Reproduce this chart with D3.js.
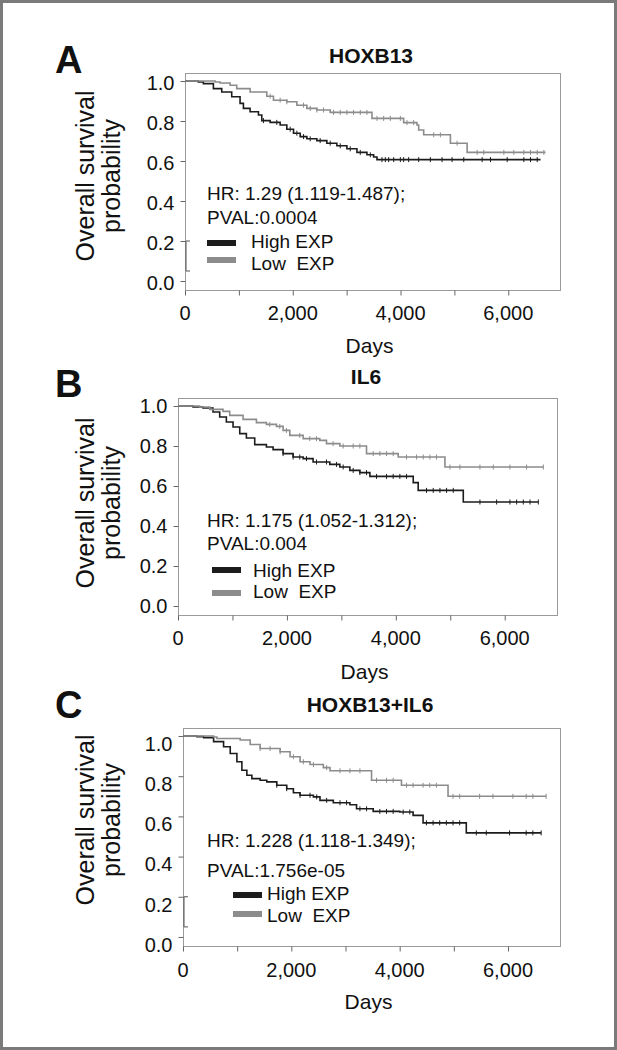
<!DOCTYPE html>
<html><head><meta charset="utf-8">
<script src="https://cdn.jsdelivr.net/npm/d3@7"></script>
<style>
body{margin:0;background:#fff}
svg{display:block}
text{font-family:"Liberation Sans",Arial,Helvetica,sans-serif;fill:#111}
</style>
</head><body><svg id="c" width="617" height="1050"></svg>
<script>
// ---------- text / labels ----------
const panelTitles = ["HOXB13", "IL6", "HOXB13+IL6"];
const panelLetters = ["A", "B", "C"];
const hrTexts = ["HR: 1.29 (1.119-1.487);", "HR: 1.175 (1.052-1.312);", "HR: 1.228 (1.118-1.349);"];
const pvalTexts = ["PVAL:0.0004", "PVAL:0.004", "PVAL:1.756e-05"];
const legendLabels = ["High EXP", "Low\u00a0\u00a0EXP"];
const xTickValues = [0, 1000, 2000, 3000, 4000, 5000, 6000];
const xLabelValues = [0, 2000, 4000, 6000];
const yTickValues = [0, 0.2, 0.4, 0.6, 0.8, 1.0];
const yTitleLines = ["Overall survival", "probability"];
const xTitle = "Days";

// ---------- Panel A (HOXB13) ----------
const aHighTime = [0, 248, 341, 527, 682, 867, 1022, 1084, 1208, 1363, 1425, 1580, 1766, 1890, 2014, 2138, 2262, 2447, 2633, 2819, 3005, 3191, 3377, 3501, 3563];
const aHighSurv = [1.0, 0.995, 0.987, 0.962, 0.945, 0.921, 0.888, 0.863, 0.846, 0.830, 0.802, 0.793, 0.780, 0.759, 0.739, 0.722, 0.711, 0.702, 0.689, 0.676, 0.661, 0.643, 0.631, 0.620, 0.607];
const aHighEnd = 6599;
const aHighCens = [1456, 1704, 1952, 2076, 2200, 2324, 2509, 2695, 2881, 3067, 3253, 3439, 3656, 3718, 3780, 3873, 3997, 4058, 4151, 4337, 4554, 4771, 4957, 5174, 5515, 5670, 5980, 6289, 6413, 6537];
const aLowTime = [0, 558, 651, 837, 960, 1208, 1518, 1642, 1890, 2076, 2262, 2447, 2695, 3470, 4058, 4306, 4337, 4430, 4926, 5236];
const aLowSurv = [1.0, 0.995, 0.990, 0.979, 0.962, 0.945, 0.924, 0.904, 0.896, 0.879, 0.863, 0.855, 0.843, 0.813, 0.792, 0.780, 0.755, 0.731, 0.689, 0.643];
const aLowEnd = 6692;
const aLowCens = [1580, 1766, 1890, 2200, 2324, 2447, 2571, 2757, 2881, 3005, 3129, 3253, 3377, 3563, 3687, 3811, 3997, 4120, 4244, 4616, 4740, 5050, 5422, 5546, 5918, 6103, 6289, 6413, 6537, 6661];

// ---------- Panel B (IL6) ----------
const bHighTime = [0, 276, 460, 643, 766, 888, 1011, 1134, 1256, 1409, 1624, 1746, 1930, 2114, 2298, 2481, 2788, 2972, 3156, 3340, 3524, 4320, 4411, 5239];
const bHighSurv = [1.0, 0.995, 0.99, 0.97, 0.945, 0.92, 0.895, 0.862, 0.84, 0.807, 0.795, 0.782, 0.762, 0.745, 0.737, 0.72, 0.708, 0.695, 0.678, 0.667, 0.648, 0.617, 0.578, 0.52];
const bHighEnd = 6617;
const bHighCens = [1930, 2114, 2236, 2359, 2543, 2727, 2911, 3033, 3217, 3340, 3462, 3646, 3830, 3952, 4074, 4197, 4564, 4687, 4810, 4932, 5055, 5545, 5851, 6096, 6219, 6341, 6464, 6617];
const bLowTime = [0, 398, 582, 827, 950, 1195, 1440, 1624, 1808, 1930, 2053, 2298, 2604, 2727, 2972, 3462, 4044, 4902];
const bLowSurv = [1.0, 0.995, 0.983, 0.973, 0.953, 0.933, 0.917, 0.908, 0.898, 0.878, 0.853, 0.837, 0.828, 0.812, 0.8, 0.762, 0.745, 0.695];
const bLowEnd = 6709;
const bLowCens = [1685, 1869, 1991, 2236, 2420, 2543, 2849, 3033, 3217, 3340, 3585, 3707, 3830, 3952, 4197, 4381, 4503, 4626, 4748, 4994, 5177, 5545, 5790, 6096, 6402, 6709];

// ---------- Panel C (HOXB13+IL6) ----------
const cHighTime = [0, 258, 381, 565, 749, 872, 995, 1087, 1179, 1271, 1424, 1547, 1731, 1915, 2038, 2161, 2407, 2529, 2775, 3082, 3204, 3511, 4003, 4248, 4432, 5230];
const cHighSurv = [1.0, 0.997, 0.992, 0.972, 0.947, 0.913, 0.872, 0.83, 0.805, 0.788, 0.78, 0.772, 0.755, 0.738, 0.718, 0.705, 0.697, 0.68, 0.668, 0.658, 0.638, 0.625, 0.622, 0.605, 0.568, 0.518];
const cHighEnd = 6612;
const cHighCens = [1731, 1915, 2161, 2345, 2468, 2652, 2898, 3020, 3266, 3389, 3634, 3757, 3880, 4064, 4187, 4494, 4617, 4739, 4862, 4985, 5108, 5415, 5599, 6029, 6336, 6459, 6612];
const cLowTime = [0, 565, 626, 1056, 1240, 1424, 1793, 1977, 2161, 2345, 2591, 2714, 3481, 4033, 4893];
const cLowSurv = [1.0, 0.995, 0.988, 0.98, 0.958, 0.938, 0.922, 0.897, 0.872, 0.858, 0.843, 0.827, 0.78, 0.755, 0.7];
const cLowEnd = 6704;
const cLowCens = [1424, 1608, 1793, 2038, 2222, 2407, 2652, 2898, 3082, 3266, 3573, 3757, 3880, 4125, 4248, 4432, 4555, 4678, 4985, 5108, 5476, 5722, 6090, 6336, 6459, 6704];

const xDomain = [0, 6960];
const yDomain = [-0.045, 1.04];

// series assembly (data only)
const panelSeries = [
  [{t: aHighTime, s: aHighSurv, end: aHighEnd, c: aHighCens}, {t: aLowTime, s: aLowSurv, end: aLowEnd, c: aLowCens}],
  [{t: bHighTime, s: bHighSurv, end: bHighEnd, c: bHighCens}, {t: bLowTime, s: bLowSurv, end: bLowEnd, c: bLowCens}],
  [{t: cHighTime, s: cHighSurv, end: cHighEnd, c: cHighCens}, {t: cLowTime, s: cLowSurv, end: cLowEnd, c: cLowCens}]
];

// ---------- layout (positions / styles) ----------
const layout = [
  {l:185, r:560, t:73, b:290, letter:[55,73], title:[371,63], yTitleCy:176, ylabDy:2, xlabY:320, xTitleY:353,
   hr:[207,200], pv:[207,224], leg:[207,240,251,248,257,270], bracket:true},
  {l:178, r:557, t:398, b:615, letter:[55,397], title:[366,384], yTitleCy:503, ylabDy:0, xlabY:645, xTitleY:679,
   hr:[207,527], pv:[207,550], leg:[212,567,253,577,590,598], bracket:false},
  {l:183, r:560, t:728, b:946, letter:[55,718], title:[370,712], yTitleCy:820, ylabDy:8, xlabY:977, xTitleY:1009,
   hr:[207,847], pv:[207,877], leg:[233,892,267,900,911,922], bracket:true}
];
const colHigh = "#1c1c1c", colLow = "#8c8c8c", boxCol = "#9a9a9a";

const svg = d3.select("#c");
svg.append("rect").attr("x",1.5).attr("y",1.5).attr("width",614).attr("height",1047)
  .attr("fill","#fff").attr("stroke","#7a7a7a").attr("stroke-width",3);

function survAt(ser, time) {
  let v = ser.s[0];
  for (let i = 0; i < ser.t.length; i++) if (ser.t[i] <= time) v = ser.s[i];
  return v;
}

layout.forEach((L, p) => {
  const g = svg.append("g");
  const x = d3.scaleLinear().domain(xDomain).range([L.l, L.r]);
  const y = d3.scaleLinear().domain(yDomain).range([L.b, L.t]);

  // box
  g.append("rect").attr("x", L.l + 0.5).attr("y", L.t + 0.5)
    .attr("width", L.r - L.l).attr("height", L.b - L.t)
    .attr("fill", "none").attr("stroke", boxCol).attr("stroke-width", 1);

  // y axis
  const ya = g.append("g").attr("transform", `translate(${L.l + 0.5},0)`)
    .call(d3.axisLeft(y).tickValues(yTickValues).tickSize(5).tickPadding(6).tickFormat(d3.format(".1f")));
  ya.select(".domain").remove();
  ya.selectAll(".tick line").attr("stroke", "#666");
  ya.selectAll(".tick text").attr("font-size", 20).attr("fill", "#111")
    .attr("font-family", '"Liberation Sans",Arial,sans-serif').attr("dy", (0.32) + "em")
    .attr("transform", `translate(0,${L.ylabDy})`);

  // x axis
  const xa = g.append("g").attr("transform", `translate(0,${L.b + 0.5})`)
    .call(d3.axisBottom(x).tickValues(xTickValues).tickSize(5).tickFormat(""));
  xa.select(".domain").remove();
  xa.selectAll(".tick line").attr("stroke", "#666");
  g.selectAll(".xlab").data(xLabelValues).join("text")
    .attr("x", d => x(d)).attr("y", L.xlabY).attr("text-anchor", "middle")
    .attr("font-size", 20).text(d => d3.format(",")(d));

  // bracket artifact near y axis
  if (L.bracket) {
    const bx = L.l + 1;
    g.append("path").attr("d", `M${bx+4},${y(0.2)}H${bx}V${y(0.05)}H${bx+4}`)
      .attr("fill","none").attr("stroke","#555").attr("stroke-width",1);
  }

  // curves
  const line = d3.line().x(d => x(d[0])).y(d => y(d[1])).curve(d3.curveStepAfter);
  panelSeries[p].forEach((ser, k) => {
    const pts = ser.t.map((t, i) => [t, ser.s[i]]);
    pts.push([ser.end, ser.s[ser.s.length - 1]]);
    const col = k === 0 ? colHigh : colLow;
    g.append("path").datum(pts).attr("d", line).attr("fill", "none")
      .attr("stroke", col).attr("stroke-width", 1.6);
    g.selectAll(null).data(ser.c).join("line")
      .attr("x1", d => x(d)).attr("x2", d => x(d))
      .attr("y1", d => y(survAt(ser, d)) - 2.5).attr("y2", d => y(survAt(ser, d)) + 2.5)
      .attr("stroke", col).attr("stroke-width", 1);
  });

  // texts
  g.append("text").attr("x", L.letter[0]).attr("y", L.letter[1]).attr("font-size", 38)
    .attr("font-weight", "bold").text(panelLetters[p]);
  g.append("text").attr("x", L.title[0]).attr("y", L.title[1]).attr("text-anchor", "middle")
    .attr("font-size", 21).attr("font-weight", "bold").text(panelTitles[p]);
  g.append("text").attr("x", L.hr[0]).attr("y", L.hr[1]).attr("font-size", 19).text(hrTexts[p]);
  g.append("text").attr("x", L.pv[0]).attr("y", L.pv[1]).attr("font-size", 19).text(pvalTexts[p]);
  [colHigh, colLow].forEach((c, k) => {
    g.append("rect").attr("x", L.leg[0]).attr("y", k === 0 ? L.leg[1] : L.leg[4])
      .attr("width", 29).attr("height", 6).attr("fill", c);
    g.append("text").attr("x", L.leg[2]).attr("y", k === 0 ? L.leg[3] : L.leg[5])
      .attr("font-size", 19).text(legendLabels[k]);
  });

  // axis titles
  const yt = g.append("text").attr("transform", `translate(0,${L.yTitleCy}) rotate(-90)`)
    .attr("text-anchor", "middle").attr("font-size", 25);
  yt.append("tspan").attr("x", 0).attr("y", 93.5).text(yTitleLines[0]);
  yt.append("tspan").attr("x", 0).attr("y", 120).text(yTitleLines[1]);
  g.append("text").attr("x", (L.l + L.r) / 2 - 3).attr("y", L.xTitleY).attr("text-anchor", "middle")
    .attr("font-size", 21).text(xTitle);
});
</script>
</body></html>
